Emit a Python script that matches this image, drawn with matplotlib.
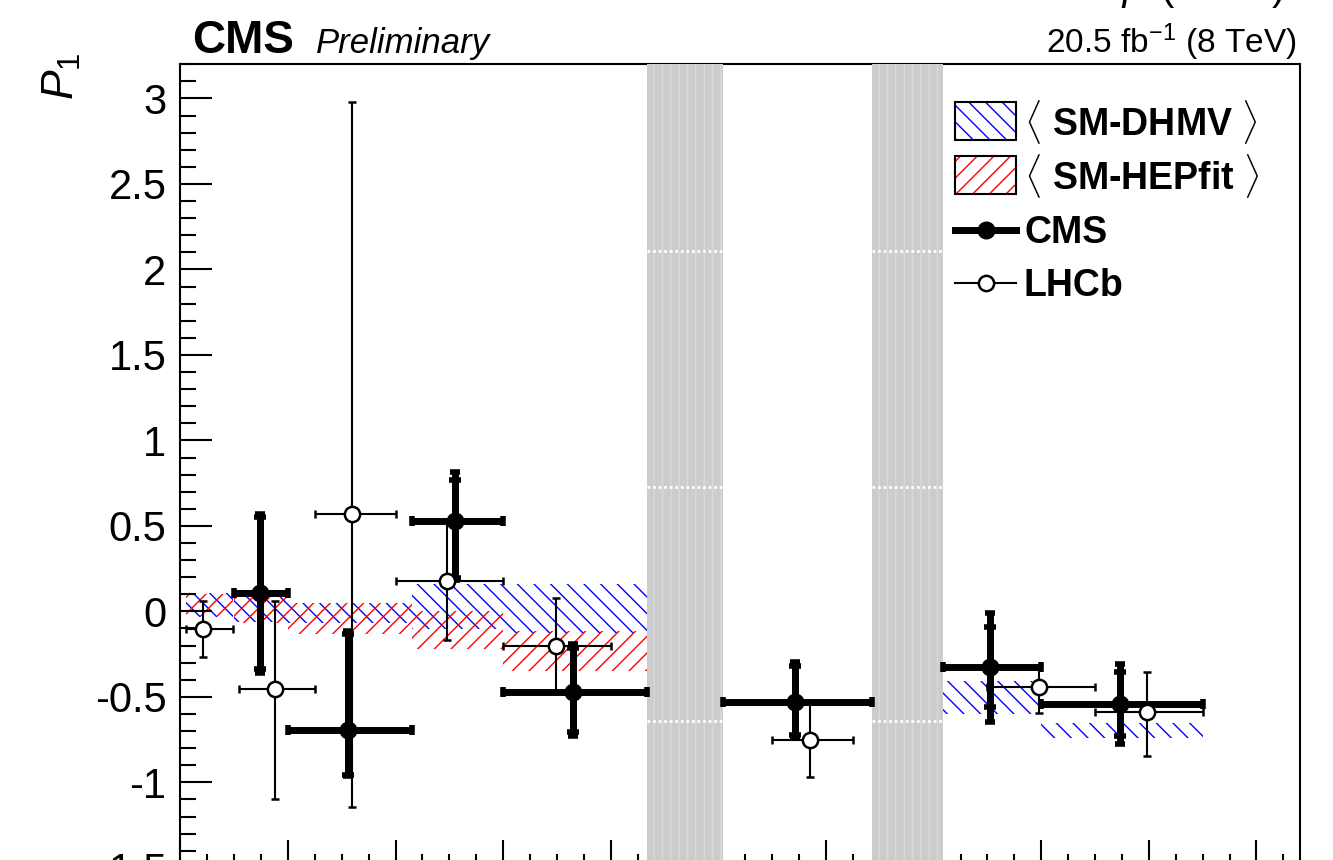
import numpy as np
import matplotlib
matplotlib.use("Agg")
import matplotlib.pyplot as plt
from matplotlib.patches import Rectangle
from matplotlib.lines import Line2D
from matplotlib.ticker import MultipleLocator, FuncFormatter

plt.rcParams['font.family'] = ['Liberation Sans', 'DejaVu Sans']
plt.rcParams['mathtext.fontset'] = 'custom'
plt.rcParams['mathtext.rm'] = 'Liberation Sans'
plt.rcParams['mathtext.it'] = 'Liberation Sans:italic'
plt.rcParams['mathtext.bf'] = 'Liberation Sans:bold'
plt.rcParams['axes.unicode_minus'] = False

# CMS measurement (q2 bins, mean q2, P1, stat and total errors)
cms_lo = [1.0, 2.0, 4.3, 6.0, 10.09, 14.18, 16.0]
cms_hi = [2.0, 4.3, 6.0, 8.68, 12.86, 16.0, 19.0]
cms_x = [1.48, 3.12, 5.10, 7.30, 11.42, 15.04, 17.46]
cms_y = [0.11, -0.695, 0.526, -0.473, -0.532, -0.327, -0.543]
cms_stat_up = [0.44, 0.56, 0.245, 0.26, 0.21, 0.234, 0.19]
cms_stat_dn = [0.45, 0.26, 0.33, 0.234, 0.19, 0.234, 0.187]
cms_tot_up = [0.46, 0.58, 0.29, 0.28, 0.234, 0.315, 0.234]
cms_tot_dn = [0.47, 0.27, 0.34, 0.257, 0.204, 0.32, 0.234]

# LHCb measurement
lhcb_lo = [0.1, 1.1, 2.5, 4.0, 6.0, 11.0, 15.0, 17.0]
lhcb_hi = [0.98, 2.5, 4.0, 6.0, 8.0, 12.5, 17.0, 19.0]
lhcb_x = [0.42, 1.76, 3.19, 4.95, 6.98, 11.70, 15.95, 17.96]
lhcb_y = [-0.105, -0.456, 0.567, 0.175, -0.204, -0.754, -0.444, -0.59]
lhcb_up = [0.164, 0.514, 2.41, 0.36, 0.28, 0.21, 0.13, 0.234]
lhcb_dn = [0.164, 0.64, 1.71, 0.34, 0.257, 0.216, 0.15, 0.257]

# SM predictions (bin edges, band low / high)
dhmv_lo = [0.1, 1.0, 2.0, 4.3, 6.0, 14.18, 16.0]
dhmv_hi = [0.98, 2.0, 4.3, 6.0, 8.68, 16.0, 19.0]
dhmv_min = [-0.035, -0.06, -0.07, -0.105, -0.125, -0.60, -0.742]
dhmv_max = [0.11, 0.11, 0.05, 0.158, 0.158, -0.41, -0.654]

hep_lo = [0.1, 1.0, 2.0, 4.3, 6.0]
hep_hi = [0.98, 2.0, 4.3, 6.0, 8.68]
hep_min = [-0.03, -0.07, -0.13, -0.22, -0.35]
hep_max = [0.10, 0.09, 0.05, 0.0, -0.117]

# charmonium vetoes
veto_lo = [8.68, 12.86]
veto_hi = [10.09, 14.18]
veto_dots = [2.11, 0.73, -0.64]

legend_labels = [r'$\langle$ SM-DHMV $\rangle$', r'$\langle$ SM-HEPfit $\rangle$',
                 'CMS', 'LHCb']

W, H = 1333, 860


def fx(px):
    return px / W


def fy(py):
    return 1 - py / H


def yfmt(v, pos):
    return '%g' % v


def add_legend(fig):
    # hatched boxes
    for (top, col, hat) in [(102, 'blue', '\\\\'), (156, 'red', '//')]:
        fig.add_artist(Rectangle((fx(955), fy(top + 38)), fx(61), 38 / H,
                                 transform=fig.transFigure, facecolor='white',
                                 edgecolor=col, hatch=hat, linewidth=0))
        fig.add_artist(Rectangle((fx(955), fy(top + 38)), fx(61), 38 / H,
                                 transform=fig.transFigure, facecolor='none',
                                 edgecolor='black', linewidth=1.5))
    fig.add_artist(Line2D([fx(955), fx(1016)], [fy(230), fy(230)],
                          transform=fig.transFigure, color='black', lw=5))
    fig.add_artist(Line2D([fx(986)], [fy(230)], transform=fig.transFigure,
                          color='black', marker='o', ms=12))
    fig.add_artist(Line2D([fx(955), fx(1016)], [fy(283), fy(283)],
                          transform=fig.transFigure, color='black', lw=1.5))
    fig.add_artist(Line2D([fx(986)], [fy(283)], transform=fig.transFigure,
                          color='black', marker='o', ms=11, mfc='white', mew=1.8))
    for lab, row in zip(legend_labels, [117, 171, 229, 282]):
        fig.text(fx(1024), fy(row), lab, fontsize=27, fontweight='bold',
                 ha='left', va='center_baseline')


def main():
    fig = plt.figure(figsize=(13.33, 8.6), dpi=100)
    ax = fig.add_axes([fx(180.3), -7.8 / H, 1119.2 / W, 803.5 / H])

    lo = np.array(dhmv_lo); hi = np.array(dhmv_hi)
    ax.bar(lo, np.array(dhmv_max) - np.array(dhmv_min), width=hi - lo,
           bottom=dhmv_min, align='edge', facecolor='none', edgecolor='blue',
           hatch='\\\\', linewidth=0, zorder=1)
    lo = np.array(hep_lo); hi = np.array(hep_hi)
    ax.bar(lo, np.array(hep_max) - np.array(hep_min), width=hi - lo,
           bottom=hep_min, align='edge', facecolor='none', edgecolor='red',
           hatch='//', linewidth=0, zorder=1)

    for a, b in zip(veto_lo, veto_hi):
        ax.axvspan(a, b, facecolor='#cccccc', edgecolor='#d9d9d9', hatch='||',
                   linewidth=0, zorder=3)
        ax.hlines(veto_dots, a, b, colors='white', linestyles=(0, (1, 1)),
                  linewidth=2, zorder=3.1)

    cx = np.array(cms_x)
    xerr = [cx - np.array(cms_lo), np.array(cms_hi) - cx]
    ax.errorbar(cx, cms_y, yerr=[cms_tot_dn, cms_tot_up], xerr=xerr, fmt='o',
                color='black', ms=12, elinewidth=5, capsize=3.5, capthick=4,
                zorder=5)
    ax.errorbar(cx, cms_y, yerr=[cms_stat_dn, cms_stat_up], fmt='none',
                ecolor='black', elinewidth=5, capsize=4.5, capthick=4, zorder=5)

    lx = np.array(lhcb_x)
    xerr = [lx - np.array(lhcb_lo), np.array(lhcb_hi) - lx]
    ax.errorbar(lx, lhcb_y, yerr=[lhcb_dn, lhcb_up], xerr=xerr, fmt='o',
                color='black', mfc='white', mec='black', mew=1.8, ms=11,
                elinewidth=1.5, capsize=3, capthick=1.5, zorder=6)

    ax.set_xlim(0, 20.8)
    ax.set_ylim(-1.5, 3.2)
    ax.xaxis.set_major_locator(MultipleLocator(2))
    ax.xaxis.set_minor_locator(MultipleLocator(0.5))
    ax.yaxis.set_major_locator(MultipleLocator(0.5))
    ax.yaxis.set_minor_locator(MultipleLocator(0.1))
    ax.yaxis.set_major_formatter(FuncFormatter(yfmt))
    ax.tick_params(axis='y', which='major', direction='in', length=23,
                   width=1.5, labelsize=30, pad=10)
    ax.tick_params(axis='y', which='minor', direction='in', length=11.5,
                   width=1.5)
    ax.tick_params(axis='x', which='major', direction='in', length=20,
                   width=1.5, labelbottom=False)
    ax.tick_params(axis='x', which='minor', direction='in', length=10,
                   width=1.5)
    for s in ax.spines.values():
        s.set_linewidth(1.5)

    add_legend(fig)

    fig.text(fx(192), fy(53), 'CMS', fontsize=33, fontweight='bold',
             ha='left', va='baseline')
    fig.text(fx(316), fy(53), 'Preliminary', fontsize=25,
             style='italic', ha='left', va='baseline')
    fig.text(fx(1296), fy(53), r'20.5 fb$^{-1}$ (8 TeV)', fontsize=24,
             ha='right', va='baseline')
    fig.text(fx(62), fy(53), r'$P_{1}$', fontsize=32, rotation=90,
             ha='center', va='top')
    fig.text(fx(1284), fy(0), r'$q^{2}$ (GeV$^{2}$)', fontsize=29,
             ha='right', va='baseline')

    fig.savefig('out.png', dpi=100)
    plt.close(fig)


if __name__ == "__main__":
    main()
